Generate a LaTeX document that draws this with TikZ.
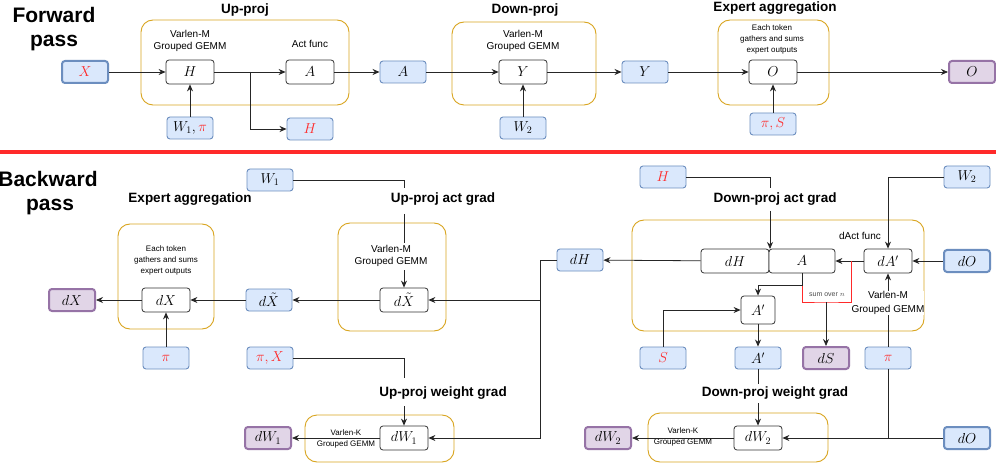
\documentclass[tikz,border=0pt]{standalone}
\usepackage{fontspec}
\setmainfont{Liberation Sans}
\usetikzlibrary{arrows.meta}
\definecolor{bf}{HTML}{DAE8FC}\definecolor{bd}{HTML}{6C8EBF}
\definecolor{pf}{HTML}{E1D5E7}\definecolor{pd}{HTML}{9673A6}
\definecolor{og}{HTML}{D9A520}\definecolor{rd}{HTML}{FF2A2A}
\begin{document}
\begin{tikzpicture}[x=1pt,y=-1pt,
 every node/.style={inner sep=0pt},
 inb/.style={draw=bd,fill=bf,rounded corners=3pt,line width=0.9pt,minimum width=46pt,minimum height=22pt,font=\fontsize{14}{14}\selectfont},
 inbk/.style={inb,line width=2pt},
 outb/.style={draw=pd,fill=pf,rounded corners=3pt,line width=2pt,minimum width=46pt,minimum height=22pt,font=\fontsize{14}{14}\selectfont},
 opb/.style={draw=black!80,fill=white,rounded corners=3pt,line width=0.8pt,minimum width=48pt,minimum height=24pt,font=\fontsize{14}{14}\selectfont},
 cont/.style={draw=og,rounded corners=12pt,line width=0.9pt},
 ttl/.style={font=\bfseries\fontsize{13.5}{14}\selectfont},
 lbl/.style={font=\fontsize{10}{12}\selectfont,align=center},
 sml/.style={font=\fontsize{8}{11}\selectfont,align=center},
 arr/.style={-{Stealth[length=7pt,width=6pt]},line width=0.8pt,black!85},
 ln/.style={line width=0.8pt,black!85}]
\useasboundingbox (0,0) rectangle (996,465);
\fill[white] (0,0) rectangle (996,465);
\draw[rd,line width=3.5pt] (0,152) -- (996,152);
% ===== Forward =====
\node[font=\bfseries\fontsize{21}{24}\selectfont,align=center] (fp) at (54,29) {Forward\\pass};
\draw[cont] (141,20) rectangle (349,105);
\node[ttl] (t1) at (245,10) {Up-proj};
\node[lbl] (v1) at (190,41) {Varlen-M\\Grouped GEMM};
\node[lbl] (af) at (310,44) {Act func};
\node[inbk] (X) at (85,72) {$\color{rd}X$};
\node[opb] (H) at (190,72) {$H$};
\node[opb] (A) at (310,72) {$A$};
\node[inb] (Ab) at (403,72) {$A$};
\node[inb] (W1p) at (190,128) {$W_1,\textcolor{rd}{\pi}$};
\node[inb] (Hr) at (310,129) {$\color{rd}H$};
\draw[cont] (452,22) rectangle (596,105);
\node[ttl] (t2) at (525,10) {Down-proj};
\node[lbl] (v2) at (523,41) {Varlen-M\\Grouped GEMM};
\node[opb] (Y) at (523,72) {$Y$};
\node[inb] (W2) at (523,128) {$W_2$};
\node[inb] (Yb) at (645,72) {$Y$};
\draw[cont] (718,20) rectangle (829,105);
\node[ttl] (t3) at (775,8) {Expert aggregation};
\node[sml] (et) at (772,39) {Each token\\gathers and sums\\expert outputs};
\node[opb] (O) at (773,72) {$O$};
\node[inb] (piS) at (773,124) {$\color{rd}\pi,S$};
\node[outb] (Ob) at (972,72) {$O$};
\draw[arr] (X) -- (H);
\draw[arr] (H) -- (A);
\draw[arr] (A) -- (Ab);
\draw[arr] (W1p) -- (H);
\coordinate (br) at (250,72);
\draw[arr] (br) |- (Hr);
\draw[arr] (Ab) -- (Y);
\draw[arr] (W2) -- (Y);
\draw[arr] (Y) -- (Yb);
\draw[arr] (Yb) -- (O);
\draw[arr] (piS) -- (O);
\draw[arr] (O) -- (Ob);
% ===== Backward =====
\node[font=\bfseries\fontsize{21}{24}\selectfont,align=center] (bp) at (48,193) {Backward\\\hspace*{4pt}pass};
\node[ttl] (t4) at (190,199) {Expert aggregation};
\draw[cont] (118,224) rectangle (214,329);
\node[sml] (et2) at (166,260) {Each token\\gathers and sums\\expert outputs};
\node[opb] (dX) at (166,300) {$dX$};
\node[outb] (dXo) at (72,300) {$dX$};
\node[inb] (pi1) at (166,358) {$\color{rd}\pi$};
\node[inb] (dXtb) at (269,300) {$d\tilde{X}$};
\draw[cont] (338,223) rectangle (446,331);
\node[ttl] (t5) at (443,199) {Up-proj act grad};
\node[lbl] (v3) at (391,256) {Varlen-M\\Grouped GEMM};
\node[opb] (dXt) at (404,300) {$d\tilde{X}$};
\node[inb] (W1b) at (270,180) {$W_1$};
\node[inb] (dHb) at (580,260) {$dH$};
\node[inb] (piX) at (270,358) {$\color{rd}\pi,X$};
\node[ttl] (t6) at (443,393) {Up-proj weight grad};
\draw[cont] (305,415) rectangle (454,462);
\node[sml] (v4) at (346,439) {Varlen-K\\Grouped GEMM};
\node[opb] (dW1) at (404,438) {$dW_1$};
\node[outb] (dW1o) at (268,438) {$dW_1$};
\draw[arr] (dX) -- (dXo);
\draw[arr] (pi1) -- (dX);
\draw[arr] (dXtb) -- (dX);
\draw[arr] (dXt) -- (dXtb);
\draw[ln] (W1b) -| (404,188);
\draw[ln] (404,214) -- (404,243);
\draw[arr] (404,270) -- (dXt);
\coordinate (hj) at (540,260);
\draw[ln] (dHb) -- (hj);
\draw[arr] (hj) |- (dXt);
\draw[arr] (hj) |- (dW1);
\draw[ln] (piX) -| (404,378);
\draw[arr] (404,406) -- (dW1);
\draw[arr] (dW1) -- (dW1o);
% right part
\node[inb] (Hr2) at (663,177) {$\color{rd}H$};
\node[ttl] (t7) at (775,199) {Down-proj act grad};
\draw[cont] (632,220) rectangle (924,331);
\node[opb,minimum width=68pt] (dH) at (735,261) {$dH$};
\node[opb,minimum width=66pt] (Ai) at (802,261) {$A$};
\node[lbl] (daf) at (860,236) {dAct func};
\node[opb] (dAp) at (888,261) {$dA'$};
\node[inbk] (dOb) at (967,261) {$dO$};
\node[inb] (W2b) at (967,177) {$W_2$};
\node[lbl,fill=white] (v5) at (888,303) {Varlen-M\\[2pt]Grouped GEMM};
\node[opb,minimum width=34pt,minimum height=28pt] (Ap) at (758,310) {$A'$};
\node[inb] (Sb) at (663,358) {$\color{rd}S$};
\node[inb] (Apb) at (758,358) {$A'$};
\node[outb] (dS) at (826,358) {$dS$};
\node[inb] (pi2) at (888,358) {$\color{rd}\pi$};
\node[ttl] (t8) at (775,393) {Down-proj weight grad};
\draw[cont] (648,413) rectangle (828,462);
\node[sml] (v6) at (683,437) {Varlen-K\\Grouped GEMM};
\node[opb] (dW2) at (758,438) {$dW_2$};
\node[outb] (dW2o) at (608,438) {$dW_2$};
\node[inbk] (dO2) at (967,438) {$dO$};
\draw[arr] (dH) -- (dHb);
\draw[ln] (Hr2) -| (770,188);
\draw[arr] (770,211) -- (770,249);
\draw[arr] (W2b) -| (dAp);
\draw[arr] (dOb) -- (dAp);
\draw[arr] (dAp) -- (Ai);
\draw[arr] (v5) -- (dAp);
\draw[ln] (pi2) -- (v5);
\draw[rd,line width=0.8pt] (851,261) |- (826,302) -| (802,285);
\node[font=\fontsize{7}{7}\selectfont,text=black!70] (son) at (827,295) {sum over $n$};
\draw[arr] (826,302) -- (dS);
\draw[ln] (Ai.south) -- (802,285) -| (758,285);
\draw[arr] (758,285) -- (Ap);
\draw[arr] (Sb) |- (Ap);
\draw[arr] (Ap) -- (Apb);
\draw[ln] (Apb) -- (758,384);
\draw[arr] (758,403) -- (dW2);
\draw[arr] (dO2) -- (dW2);
\draw[ln] (pi2) -- (888,438);
\draw[arr] (dW2) -- (dW2o);
\end{tikzpicture}
\end{document}
